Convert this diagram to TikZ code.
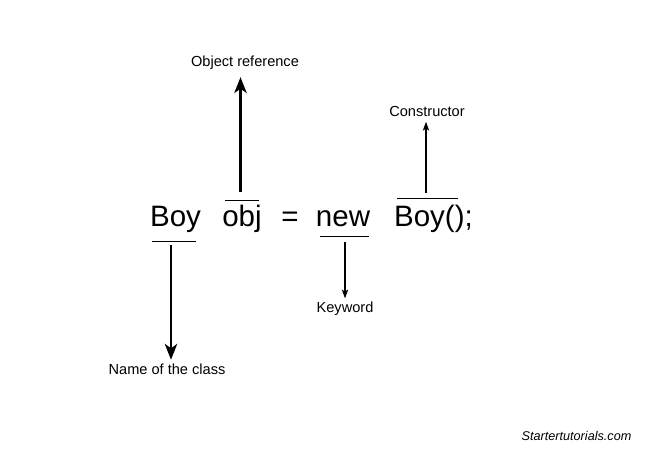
\documentclass[tikz,border=0pt]{standalone}
\usepackage{fontspec}
\setmainfont{Liberation Sans}
\usetikzlibrary{arrows.meta}

\tikzset{
    code/.style={anchor=base, inner sep=0pt, font=\fontsize{16.8}{20}\selectfont},
    lbl/.style={inner sep=1pt, font=\fontsize{8.3}{10}\selectfont},
    bigarrow/.style={line width=1.6pt, -{Stealth[length=9pt,width=7pt,inset=2.5pt]}},
    smallarrow/.style={line width=0.8pt, -{Stealth[length=5pt,width=3.6pt,inset=1.2pt]}}
}

\begin{document}
\begin{tikzpicture}[x=0.02cm, y=0.02cm]
    \useasboundingbox (0,0) rectangle (650,450);

    % the statement
    \node[code] (cls) at (175.5,223.5) {Boy};
    \node[code] (obj) at (242,223.5) {obj};
    \node[code] (eq) at (290,223.5) {=};
    \node[code] (new) at (343,223.5) {new};
    \node[code] (ctor) at (433.5,223.5) {Boy();};

    \draw[thin] (152,209) -- (196,209);
    \draw[thin] (225,250) -- (259,250);
    \draw[thin] (320,214) -- (369,214);
    \draw[thin] (397,251.5) -- (458,251.5);

    \coordinate (clsbot) at (171,205);
    \coordinate (objtop) at (240.5,258);
    \coordinate (newbot) at (345,208);
    \coordinate (ctortop) at (426,257);

    % labels
    \node[lbl] (clslbl) at (167,81) {Name of the class};
    \node[lbl] (objlbl) at (245,387) {Object reference};
    \node[lbl] (newlbl) at (345,141) {Keyword};
    \node[lbl] (ctorlbl) at (427,339) {Constructor};

    \draw[bigarrow, shorten >=1pt] (clsbot) -- (clsbot |- clslbl.north);
    \draw[bigarrow, shorten >=3pt] (objtop) -- (objtop |- objlbl.south);
    \draw[smallarrow, shorten >=1pt] (newbot) -- (newbot |- newlbl.north);
    \draw[smallarrow, shorten >=2pt] (ctortop) -- (ctortop |- ctorlbl.south);

    \node[font=\itshape\fontsize{7.2}{9}\selectfont] (site) at (576.5,14) {Startertutorials.com};
\end{tikzpicture}
\end{document}
